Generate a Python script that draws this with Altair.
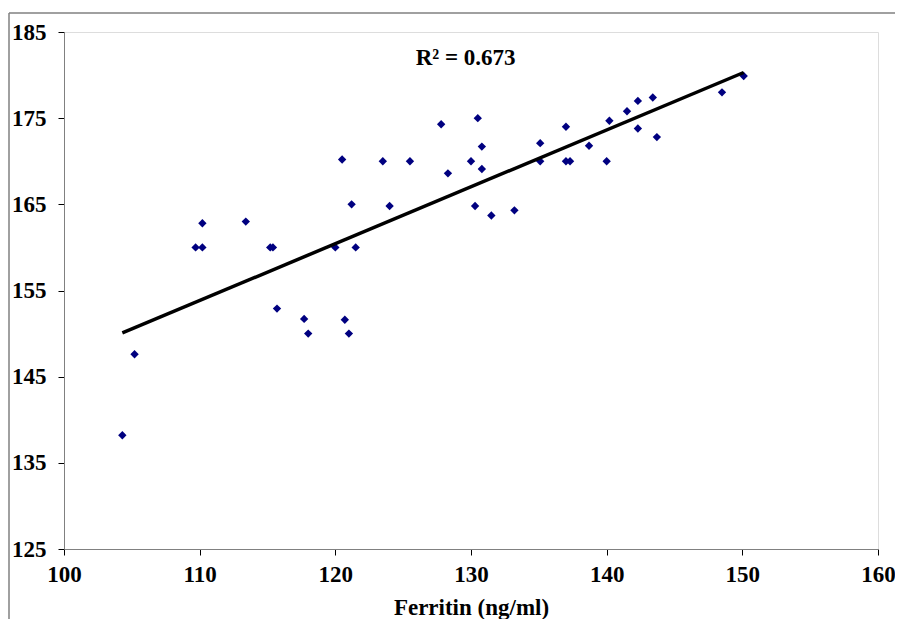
import altair as alt
import pandas as pd

ferritin = [104.3, 105.2, 109.7, 110.2, 110.2, 113.4, 115.2, 115.4, 115.7, 117.7,
            118.0, 120.0, 120.5, 120.7, 121.0, 121.2, 121.5, 123.5, 124.0, 125.5,
            127.8, 128.3, 130.0, 130.3, 130.5, 130.8, 130.8, 131.5, 133.2, 135.1,
            135.1, 137.0, 137.0, 137.3, 138.7, 140.0, 140.2, 141.5, 142.3, 142.3,
            143.4, 143.7, 148.5, 150.1]
height_cm = [138.2, 147.6, 160.0, 160.0, 162.8, 163.0, 160.0, 160.0, 152.9, 151.7,
             150.0, 160.0, 170.2, 151.6, 150.0, 165.0, 160.0, 170.0, 164.8, 170.0,
             174.3, 168.6, 170.0, 164.8, 175.0, 171.7, 169.1, 163.7, 164.3, 172.1,
             170.0, 174.0, 170.0, 170.0, 171.8, 170.0, 174.7, 175.8, 177.0, 173.8,
             177.4, 172.8, 178.0, 179.9]
# linear trendline endpoints
trend_x = [104.3, 150.1]
trend_y = [150.07, 180.3]
x_ticks = [100, 110, 120, 130, 140, 150, 160]
y_ticks = [125, 135, 145, 155, 165, 175, 185]
r2_label = "R² = 0.673"

df = pd.DataFrame({"x": ferritin, "y": height_cm})
tdf = pd.DataFrame({"x": trend_x, "y": trend_y})

FONT = "Liberation Serif"
FS = 23

xs = alt.X("x:Q", title="Ferritin (ng/ml)",
           scale=alt.Scale(domain=[100, 160], nice=False, zero=False),
           axis=alt.Axis(values=x_ticks, grid=False, domainColor="#808080",
                         tickColor="#000000", tickSize=6, labelPadding=8,
                         labelFlush=False, titlePadding=10,
                         labelFontSize=FS, titleFontSize=FS,
                         labelFont=FONT, titleFont=FONT, labelFontWeight="bold",
                         titleFontWeight="bold", labelColor="black", titleColor="black"))
ys = alt.Y("y:Q", title=None,
           scale=alt.Scale(domain=[125, 185], nice=False, zero=False),
           axis=alt.Axis(values=y_ticks, grid=False, domainColor="#808080",
                         tickColor="#000000", tickSize=6, labelPadding=12,
                         labelFlush=False,
                         labelFontSize=FS, labelFont=FONT, labelFontWeight="bold",
                         labelColor="black"))

points = alt.Chart(df).mark_point(shape="diamond", filled=True, color="#000080",
                                  size=70, opacity=1).encode(x=xs, y=ys)

fit = alt.Chart(tdf).mark_line(color="black", strokeWidth=3.5).encode(
    x="x:Q", y="y:Q")

label = alt.Chart(pd.DataFrame({"x": [129.6], "y": [182.0], "t": [r2_label]})).mark_text(
    font=FONT, fontSize=FS, fontWeight="bold", color="black", align="center",
    baseline="middle").encode(x="x:Q", y="y:Q", text="t:N")

frame_top = alt.Chart(pd.DataFrame({"a": [0]})).mark_rule(
    color="#808080", strokeWidth=1.5).encode(
    x=alt.value(-55), x2=alt.value(900), y=alt.value(-19))
frame_left = alt.Chart(pd.DataFrame({"a": [0]})).mark_rule(
    color="#808080", strokeWidth=1.5).encode(
    x=alt.value(-55), y=alt.value(-19), y2=alt.value(700))

chart = alt.layer(frame_top, frame_left, points, fit, label).properties(
    width=814, height=517,
    padding={"left": 56, "top": 24, "right": 17, "bottom": 70},
    autosize=alt.AutoSizeParams(type="none"),
).configure_view(stroke=None).configure(background="white")

chart.save("out.html", embed_options={"renderer": "svg", "actions": False})
